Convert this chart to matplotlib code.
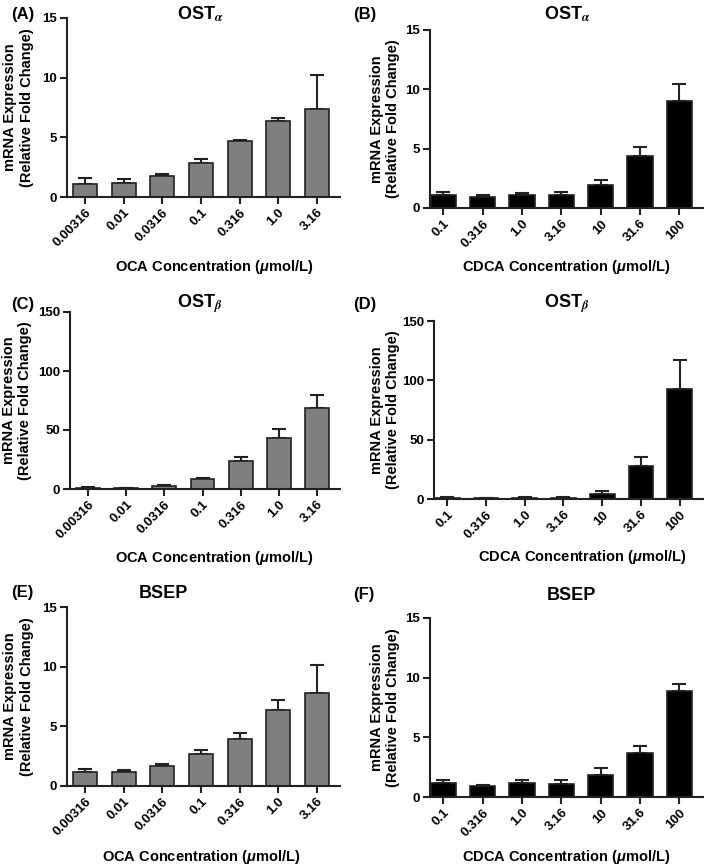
import matplotlib
matplotlib.use("Agg")
import matplotlib.pyplot as plt
import numpy as np

plt.rcParams['font.family'] = ['Liberation Sans', 'DejaVu Sans']
plt.rcParams['font.weight'] = 'bold'
plt.rcParams['mathtext.fontset'] = 'custom'
plt.rcParams['mathtext.rm'] = 'Liberation Sans:bold'
plt.rcParams['mathtext.it'] = 'Liberation Sans:italic:bold'
plt.rcParams['mathtext.bf'] = 'Liberation Sans:bold'

oca_conc = ["0.00316", "0.01", "0.0316", "0.1", "0.316", "1.0", "3.16"]
cdca_conc = ["0.1", "0.316", "1.0", "3.16", "10", "31.6", "100"]

osta_oca = [1.12, 1.15, 1.75, 2.85, 4.68, 6.4, 7.35]
osta_oca_err = [0.45, 0.33, 0.2, 0.3, 0.12, 0.25, 2.9]
osta_cdca = [1.1, 0.92, 1.13, 1.12, 1.97, 4.38, 9.05]
osta_cdca_err = [0.25, 0.15, 0.1, 0.26, 0.38, 0.8, 1.4]

ostb_oca = [1.1, 0.6, 2.5, 8.2, 23.6, 42.8, 69.0]
ostb_oca_err = [1.0, 0.3, 0.9, 1.1, 3.4, 8.4, 10.4]
ostb_cdca = [0.8, 0.5, 0.7, 0.7, 4.2, 28.0, 93.0]
ostb_cdca_err = [0.7, 0.5, 0.7, 0.6, 2.8, 7.0, 24.0]

bsep_oca = [1.14, 1.2, 1.64, 2.7, 3.96, 6.38, 7.8]
bsep_oca_err = [0.28, 0.14, 0.2, 0.28, 0.44, 0.81, 2.3]
bsep_cdca = [1.2, 0.92, 1.17, 1.12, 1.82, 3.72, 8.88]
bsep_cdca_err = [0.25, 0.11, 0.28, 0.28, 0.64, 0.55, 0.59]

W, H = 709, 865
fig = plt.figure(figsize=(W/100, H/100), dpi=100)

def box(l, r, t, b):
    return [l/W, 1-b/H, (r-l)/W, (b-t)/H]

def ftext(x, y, s, **kw):
    return fig.text(x/W, 1-y/H, s, **kw)

# (label, title, categories, values, errors, ymax, ystep, color, acid, axes box,
#  xlim, bar width, label xy, title xy, xlabel xy, ylabel x)
panels = [
    ("(A)", r"OST$_{\alpha}$", oca_conc, osta_oca, osta_oca_err, 15, 5, "#7f7f7f", "OCA",
     box(67, 340, 18, 197), (-0.47, 6.6), 0.62, (11, 14), (200, 14), (214, 267), -0.122),
    ("(B)", r"OST$_{\alpha}$", cdca_conc, osta_cdca, osta_cdca_err, 15, 5, "black", "CDCA",
     box(430, 703, 30, 208), (-0.34, 6.6), 0.64, (353, 15), (567, 14), (566, 267), -0.11),
    ("(C)", r"OST$_{\beta}$", oca_conc, ostb_oca, ostb_oca_err, 150, 50, "#7f7f7f", "OCA",
     box(70, 340, 312, 489), (-0.47, 6.6), 0.62, (11, 304), (200, 304), (214, 558), -0.14),
    ("(D)", r"OST$_{\beta}$", cdca_conc, ostb_cdca, ostb_cdca_err, 150, 50, "black", "CDCA",
     box(434, 703, 321, 499), (-0.34, 6.6), 0.64, (353, 305), (567, 304), (582, 557), -0.125),
    ("(E)", "BSEP", oca_conc, bsep_oca, bsep_oca_err, 15, 5, "#7f7f7f", "OCA",
     box(67, 340, 607, 786), (-0.47, 6.6), 0.62, (11, 593), (163, 593), (201, 857), -0.122),
    ("(F)", "BSEP", cdca_conc, bsep_cdca, bsep_cdca_err, 15, 5, "black", "CDCA",
     box(430, 703, 618, 797), (-0.34, 6.6), 0.64, (353, 595), (571, 595), (566, 857), -0.11),
]

for (lab, title, cats, vals, errs, ymax, ystep, color, acid, pos, xlim, bw,
     labxy, titxy, xlxy, ylx) in panels:
    ax = fig.add_axes(pos)
    x = np.arange(len(cats))
    ax.bar(x, vals, width=bw, color=color, edgecolor="#222222", linewidth=1.2, zorder=2)
    ax.errorbar(x, vals, yerr=[np.zeros(len(vals)), errs], fmt='none', ecolor="#222222",
                elinewidth=1.5, capsize=5, capthick=1.5, zorder=1)
    ax.set_ylim(0, ymax)
    ax.set_xlim(*xlim)
    ax.set_yticks(np.arange(0, ymax + 1, ystep))
    ax.set_xticks(x)
    ax.set_xticklabels(cats, rotation=45, ha='right', rotation_mode='anchor',
                       fontsize=9.5, fontweight='bold')
    for t in ax.get_yticklabels():
        t.set_fontsize(9.5)
        t.set_fontweight('bold')
    for s in ['top', 'right']:
        ax.spines[s].set_visible(False)
    for s in ['left', 'bottom']:
        ax.spines[s].set_linewidth(1.5)
        ax.spines[s].set_color('#222222')
    ax.tick_params(axis='both', width=1.5, length=5, color='#222222', pad=2)
    ax.set_ylabel("mRNA Expression\n(Relative Fold Change)", fontsize=10.5, fontweight='bold')
    ax.yaxis.set_label_coords(ylx, 0.5)
    ftext(xlxy[0], xlxy[1], acid + r" Concentration ($\mu$mol/L)", fontsize=10.5,
          fontweight='bold', ha='center', va='center')
    ftext(titxy[0], titxy[1], title, fontsize=13, fontweight='bold', ha='center',
          va='center', math_fontfamily='stix')
    ftext(labxy[0], labxy[1], lab, fontsize=12, fontweight='bold', ha='left', va='center')

fig.savefig("out.png", dpi=100)
